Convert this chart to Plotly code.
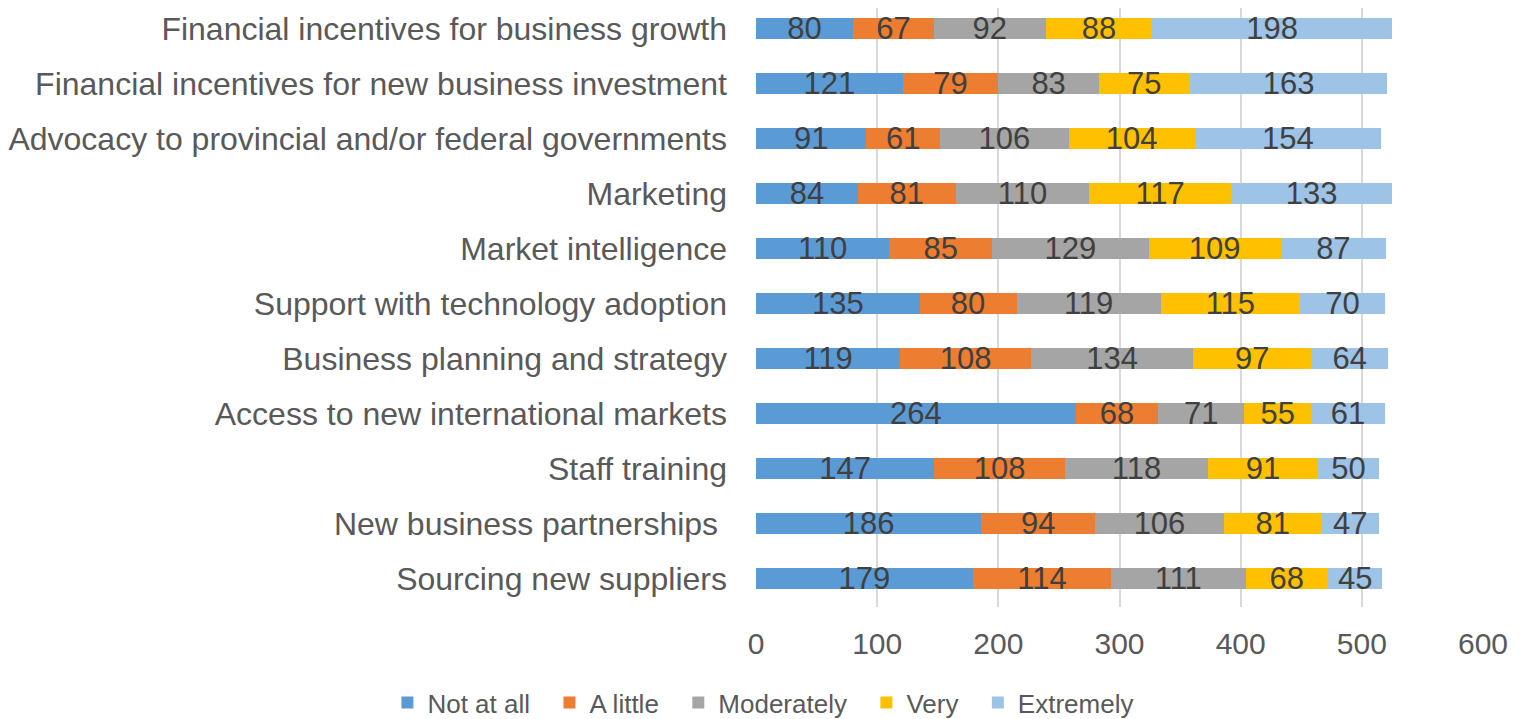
import plotly.graph_objects as go

categories = [
    "Financial incentives for business growth",
    "Financial incentives for new business investment",
    "Advocacy to provincial and/or federal governments",
    "Marketing",
    "Market intelligence",
    "Support with technology adoption",
    "Business planning and strategy",
    "Access to new international markets",
    "Staff training",
    "New business partnerships\u00a0",
    "Sourcing new suppliers",
]
series_names = ["Not at all", "A little", "Moderately", "Very", "Extremely"]
not_at_all = [80, 121, 91, 84, 110, 135, 119, 264, 147, 186, 179]
a_little = [67, 79, 61, 81, 85, 80, 108, 68, 108, 94, 114]
moderately = [92, 83, 106, 110, 129, 119, 134, 71, 118, 106, 111]
very = [88, 75, 104, 117, 109, 115, 97, 55, 91, 81, 68]
extremely = [198, 163, 154, 133, 87, 70, 64, 61, 50, 47, 45]
x_ticks = [0, 100, 200, 300, 400, 500, 600]

colors = ["#5B9BD5", "#ED7D31", "#A5A5A5", "#FFC000", "#9DC3E6"]
values = [not_at_all, a_little, moderately, very, extremely]

fig = go.Figure()
for i, (name, vals, col) in enumerate(zip(series_names, values, colors)):
    pad = "\u00a0\u00a0" if i < len(series_names) - 1 else ""
    fig.add_trace(go.Bar(
        y=categories, x=vals, name=name + pad, orientation="h",
        marker=dict(color=col, line=dict(width=0)),
        text=[str(v) for v in vals], textposition="inside",
        insidetextanchor="middle", textangle=0, constraintext="none",
        textfont=dict(family="Liberation Sans, Arial", size=31, color="#404040"),
        cliponaxis=False,
    ))

fig.update_layout(
    barmode="stack",
    bargap=0.618,
    width=1520, height=711,
    margin=dict(l=745, r=45, t=0, b=112),
    paper_bgcolor="white", plot_bgcolor="white",
    font=dict(family="Liberation Sans, Arial", color="#595959"),
    xaxis=dict(
        range=[0, 600], tickvals=x_ticks, showgrid=True, gridcolor="#D9D9D9",
        gridwidth=2, zeroline=False, showline=False,
        tickfont=dict(size=30, color="#595959"), ticklabelstandoff=16,
    ),
    yaxis=dict(
        categoryorder="array", categoryarray=categories,
        range=[10.518, -0.373],
        showgrid=False, showline=False, ticks="",
        tickfont=dict(size=32, color="#595959"), ticklabelstandoff=28,
    ),
    legend=dict(
        orientation="h", xref="paper", yref="container",
        x=-0.507, xanchor="left", y=0.0232, yanchor="middle",
        font=dict(size=26, color="#595959"), traceorder="normal",
        itemwidth=30, tracegroupgap=0,
    ),
)

fig.write_html("out.html")
